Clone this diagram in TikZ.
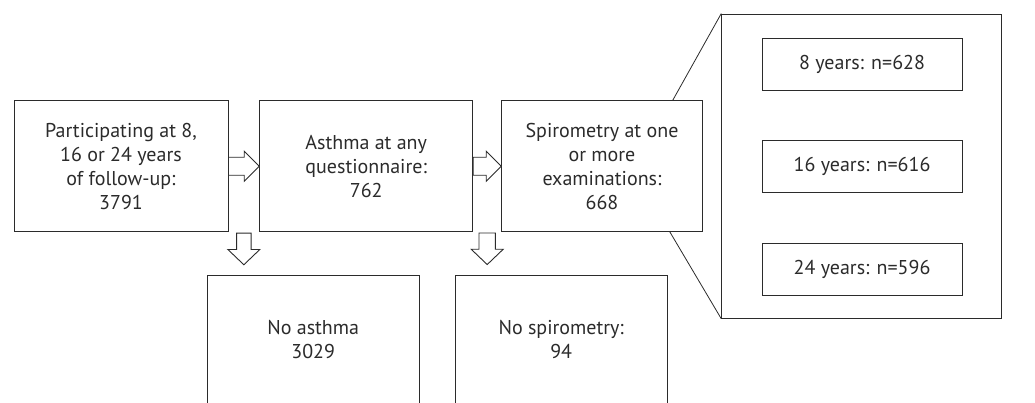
\documentclass[tikz,border=0pt]{standalone}
\usepackage{fontspec}
\setmainfont{PT Sans}
\usetikzlibrary{calc}
\definecolor{ink}{HTML}{2B2B2B}
\tikzset{
  box/.style={draw=ink, line width=0.9pt, text=ink, align=center, inner sep=0pt,
    font=\fontsize{20}{24}\selectfont},
  blk/.style={draw=ink, line width=0.9pt, fill=white, line join=miter},
  zoomline/.style={draw=ink, line width=0.8pt},
}
\begin{document}
\begin{tikzpicture}[x=1pt,y=-1pt]
\useasboundingbox (0,0) rectangle (1035,402);
% main row
\node[box, minimum width=214pt, minimum height=131pt] (b1) at (121,166.2)
  {Participating at 8,\\16 or 24 years\\of follow-up:\\3791};
\node[box, minimum width=213pt, minimum height=131pt] (b2) at (366.2,166.2)
  {Asthma at any\\questionnaire:\\762};
\node[box, minimum width=200.6pt, minimum height=130.6pt] (b3) at (602,166)
  {Spirometry at one\\or more\\examinations:\\668};
% exclusions
\node[box, minimum width=212.3pt, minimum height=128.3pt] (e1) at (313.2,339.8)
  {No asthma\\3029};
\node[box, minimum width=212.3pt, minimum height=128.3pt] (e2) at (561.2,339.8)
  {No spirometry:\\94};
% zoom panel
\node[box, minimum width=279.3pt, minimum height=304.3pt] (panel) at (861.35,166.15) {};
\node[box, minimum width=200pt, minimum height=52pt] (y8) at (862,64) {8 years: n=628};
\node[box, minimum width=200pt, minimum height=52pt] (y16) at (862,166.2) {16 years: n=616};
\node[box, minimum width=200pt, minimum height=52pt] (y24) at (862,269.2) {24 years: n=596};
% zoom lines
\coordinate (zt) at ($(b3.north east)+(-30,0)$);
\coordinate (zb) at ($(b3.south east)+(-33,0)$);
\draw[zoomline] (zt) -- (panel.north west);
\draw[zoomline] (zb) -- (panel.south west);
% horizontal block arrows
\path[blk] let \p1=(b1.east), \p2=(b2.west) in
  (\x1,\y1+9) -- (\x2-15,\y1+9) -- (\x2-15,\y1+15) -- (\x2,\y1) -- (\x2-15,\y1-15)
  -- (\x2-15,\y1-9) -- (\x1,\y1-9) -- cycle;
\path[blk] let \p1=(b2.east), \p2=(b3.west) in
  (\x1,\y1+9) -- (\x2-15,\y1+9) -- (\x2-15,\y1+15) -- (\x2,\y1) -- (\x2-15,\y1-15)
  -- (\x2-15,\y1-9) -- (\x1,\y1-9) -- cycle;
% vertical block arrows
\path[blk] let \p1=($(b1.south east)!0.5!(b2.south west)$), \p2=(e1.north) in
  (\x1-7.2,\y1-1) -- (\x1+7.2,\y1-1) -- (\x1+7.2,\y1-17.3) -- (\x1+16,\y1-17.3)
  -- (\x1,\y1-32.6) -- (\x1-16,\y1-17.3) -- (\x1-7.2,\y1-17.3) -- cycle;
\path[blk] let \p1=($(b2.south east)!0.5!(b3.south west)$), \p2=(e2.north) in
  (\x1-8.2,\y1-1) -- (\x1+8.2,\y1-1) -- (\x1+8.2,\y1-17.3) -- (\x1+16,\y1-17.3)
  -- (\x1,\y1-32.6) -- (\x1-16,\y1-17.3) -- (\x1-8.2,\y1-17.3) -- cycle;
\end{tikzpicture}
\end{document}
